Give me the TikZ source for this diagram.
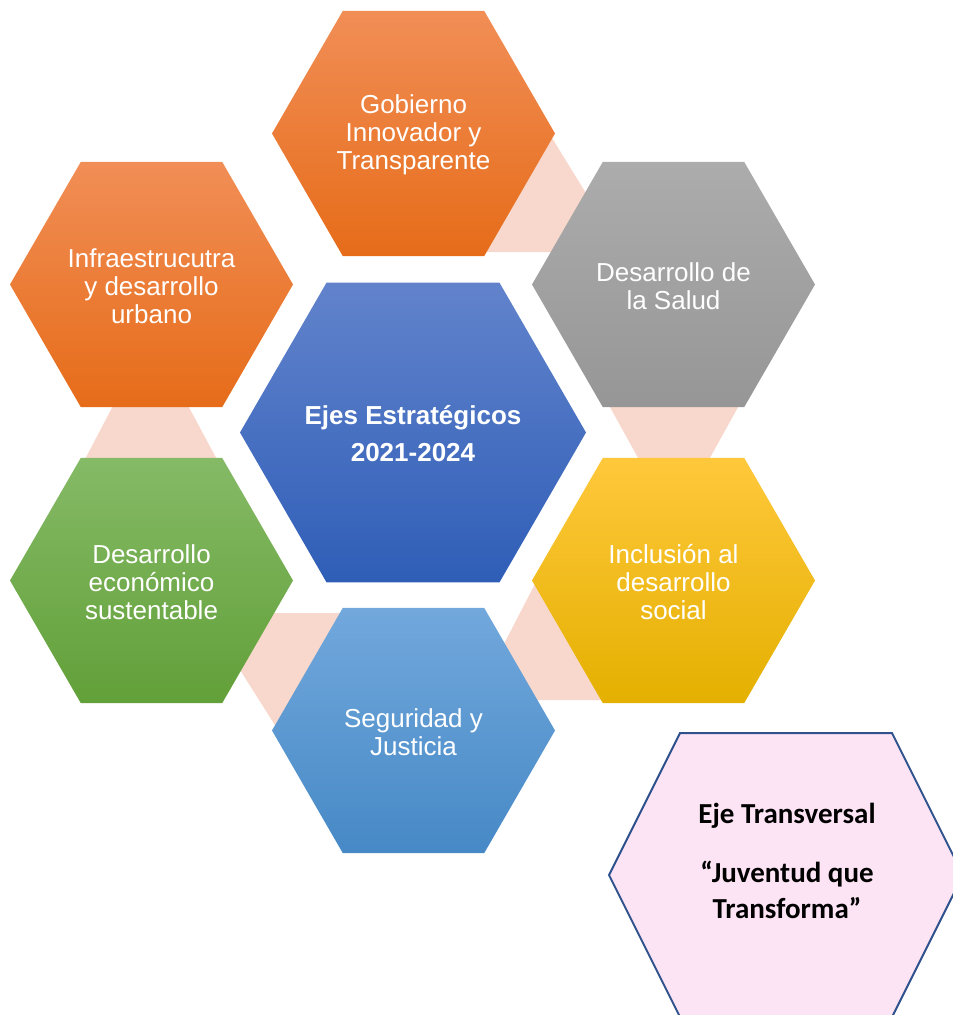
\documentclass[tikz,border=0pt]{standalone}
\usepackage{fontspec}
\setmainfont{Liberation Sans}
\newfontfamily\calib{Carlito}
\definecolor{pinkc}{RGB}{248,216,204}
\definecolor{orT}{RGB}{241,142,86}
\definecolor{orM}{RGB}{243,128,40}
\definecolor{orB}{RGB}{230,108,25}
\definecolor{grT}{RGB}{172,172,172}
\definecolor{grB}{RGB}{150,150,150}
\definecolor{yeT}{RGB}{255,200,60}
\definecolor{yeM}{RGB}{255,192,0}
\definecolor{yeB}{RGB}{228,176,0}
\definecolor{gnT}{RGB}{133,186,102}
\definecolor{gnM}{RGB}{112,173,71}
\definecolor{gnB}{RGB}{98,160,57}
\definecolor{lbT}{RGB}{114,168,220}
\definecolor{lbM}{RGB}{91,155,213}
\definecolor{lbB}{RGB}{70,137,198}
\definecolor{cbT}{RGB}{98,131,204}
\definecolor{cbM}{RGB}{68,114,196}
\definecolor{cbB}{RGB}{47,94,183}
\definecolor{ejeFill}{RGB}{252,228,244}
\definecolor{ejeLine}{RGB}{47,82,143}
\newcommand{\hexshape}[3]{({#1-#3},{#2}) -- ({#1-0.5*#3},{#2-0.866*#3}) -- ({#1+0.5*#3},{#2-0.866*#3}) -- ({#1+#3},{#2}) -- ({#1+0.5*#3},{#2+0.866*#3}) -- ({#1-0.5*#3},{#2+0.866*#3}) -- cycle}
\tikzset{
  orangehex/.style={top color=orT, middle color=orM, bottom color=orB},
  grayhex/.style={top color=grT, bottom color=grB},
  yellowhex/.style={top color=yeT, middle color=yeM, bottom color=yeB},
  greenhex/.style={top color=gnT, middle color=gnM, bottom color=gnB},
  lbluehex/.style={top color=lbT, middle color=lbM, bottom color=lbB},
  cbluehex/.style={top color=cbT, middle color=cbM, bottom color=cbB},
  link/.style={fill=pinkc},
  txt/.style={text=white, align=center, inner sep=0pt, font=\fontsize{26}{28}\selectfont},
  ctxt/.style={text=white, align=center, inner sep=0pt, font=\bfseries\fontsize{26}{37}\selectfont},
  etxt/.style={text=black, align=center, inner sep=0pt, font=\calib\bfseries\fontsize{29}{36}\selectfont}
}
\begin{document}
\begin{tikzpicture}[x=1pt,y=-1pt]
\useasboundingbox (0,0) rectangle (953,1015);
\clip (0,0) rectangle (953,1015);
% pink links
\fill[link] (549,133) -- (622,252) -- (480,252) -- cycle;
\fill[link] (606,400) -- (742,400) -- (706,465) -- (642,465) -- cycle;
\fill[link] (537,580) -- (475,700) -- (610,700) -- cycle;
\fill[link] (204,613) -- (360,613) -- (360,730) -- (278,730) -- cycle;
\fill[link] (116,400) -- (185,400) -- (220,465) -- (82,465) -- cycle;
% hexagons
\shade[orangehex] \hexshape{413.5}{133.5}{141.5};
\shade[grayhex] \hexshape{673.5}{284.5}{141.5};
\shade[yellowhex] \hexshape{673.5}{580.5}{141.5};
\shade[lbluehex] \hexshape{413.5}{730.5}{141.5};
\shade[greenhex] \hexshape{151.5}{580.5}{141.5};
\shade[orangehex] \hexshape{151.5}{284.5}{141.5};
\shade[cbluehex] \hexshape{413}{432.5}{173};
\filldraw[fill=ejeFill, draw=ejeLine, line width=2pt, line join=miter] (680,733) -- (892,733) -- (963,875) -- (892,1017) -- (680,1017) -- (609,875) -- cycle;
% texts
\node[txt] (gob) at (413.5,135) {Gobierno\\Innovador y\\Transparente};
\node[txt] (sal) at (673.5,286) {Desarrollo de\\la Salud};
\node[txt] (inc) at (673.5,582) {Inclusión al\\desarrollo\\social};
\node[txt] (seg) at (413.5,732) {Seguridad y\\Justicia};
\node[txt] (eco) at (151.5,582) {Desarrollo\\económico\\sustentable};
\node[txt] (inf) at (151.5,286) {Infraestrucutra\\y desarrollo\\urbano};
\node[ctxt] (cen) at (413,434) {Ejes Estratégicos\\2021-2024};
\node[etxt] (eje) at (787,861) {Eje Transversal\\[23pt]“Juventud que\\Transforma”};
\end{tikzpicture}
\end{document}
